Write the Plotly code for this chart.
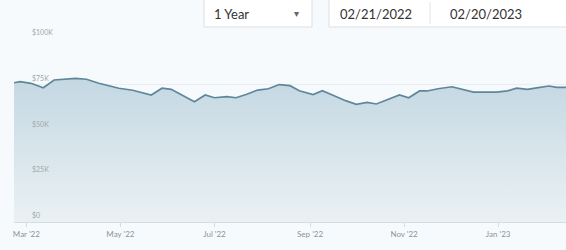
import plotly.graph_objects as go

dates = ["2022-02-21", "2022-02-25", "2022-03-04", "2022-03-12", "2022-03-19", "2022-04-02",
         "2022-04-09", "2022-04-17", "2022-04-30", "2022-05-09", "2022-05-21", "2022-05-28",
         "2022-06-03", "2022-06-18", "2022-06-25", "2022-07-01", "2022-07-09", "2022-07-15",
         "2022-07-22", "2022-07-29", "2022-08-05", "2022-08-12", "2022-08-19", "2022-08-25",
         "2022-09-03", "2022-09-09", "2022-09-17", "2022-09-24", "2022-10-01", "2022-10-08",
         "2022-10-14", "2022-10-21", "2022-10-29", "2022-11-04", "2022-11-11", "2022-11-16",
         "2022-11-23", "2022-12-02", "2022-12-08", "2022-12-16", "2022-12-31", "2023-01-07",
         "2023-01-13", "2023-01-20", "2023-01-27", "2023-02-03", "2023-02-08", "2023-02-14",
         "2023-02-20"]
values = [76.1, 76.7, 75.8, 73.4, 77.6, 78.5, 78.0, 75.8, 73.1, 72.0, 69.4, 73.1,
          72.5, 65.7, 69.4, 67.9, 68.5, 67.9, 69.8, 72.1, 72.8, 75.1, 74.5, 71.7,
          69.6, 71.7, 68.9, 66.3, 64.3, 65.4, 64.5, 66.7, 69.4, 67.9, 71.6, 71.6,
          72.8, 73.9, 72.5, 71.0, 71.0, 71.7, 73.1, 72.5, 73.4, 74.3, 73.6, 73.6,
          73.6]
values = [v * 1000 for v in values]

x_tick_vals = ["2022-03-01", "2022-05-01", "2022-07-01", "2022-09-01", "2022-11-01", "2023-01-01"]
x_tick_text = ["Mar '22", "May '22", "Jul '22", "Sep '22", "Nov '22", "Jan '23"]
y_tick_vals = [0, 25000, 50000, 75000, 100000]
y_tick_text = ["$0", "$25K", "$50K", "$75K", "$100K"]

period_label = "1 Year"
start_label = "02/21/2022"
end_label = "02/20/2023"

W, H = 566, 250
L, R = 14, 566
T, B = 39, 222


def px(x):
    return (x - L) / (R - L)


def py(y):
    return (B - y) / (B - T)


fig = go.Figure()
fig.add_trace(go.Scatter(
    x=dates, y=values, mode="lines",
    line=dict(color="#5f8799", width=1.7),
    fill="tozeroy",
    fillgradient=dict(type="vertical",
                      colorscale=[[0, "#eaf1f4"], [1, "#c4d8e2"]]),
    hoverinfo="skip", showlegend=False,
))

annotations = []
for v, t in zip(y_tick_vals, y_tick_text):
    annotations.append(dict(
        x=px(30), xref="paper", y=v, yref="y", text=t, showarrow=False,
        xanchor="left", yanchor="bottom", yshift=1,
        font=dict(family="Lato, sans-serif", size=7, color="#a0a8ad"),
    ))

shapes = [
    dict(type="rect", xref="paper", yref="paper", x0=px(204), x1=px(312), y0=py(27), y1=py(-6),
         line=dict(color="#dcdfe2", width=1), fillcolor="#ffffff", layer="above"),
    dict(type="rect", xref="paper", yref="paper", x0=px(329), x1=px(580), y0=py(27), y1=py(-6),
         line=dict(color="#dcdfe2", width=1), fillcolor="#ffffff", layer="above"),
    dict(type="line", xref="paper", yref="paper", x0=px(430), x1=px(430), y0=py(24), y1=py(2),
         line=dict(color="#e2e4e6", width=1), layer="above"),
]
ui_font = dict(family="Lato, sans-serif", size=13, color="#333333")
annotations += [
    dict(x=px(212), y=py(14), xref="paper", yref="paper", text=period_label, showarrow=False,
         xanchor="left", yanchor="middle", font=ui_font),
    dict(x=px(297), y=py(13), xref="paper", yref="paper", text="▾", showarrow=False,
         xanchor="center", yanchor="middle", font=dict(family="DejaVu Sans", size=10, color="#666666")),
    dict(x=px(376), y=py(14), xref="paper", yref="paper", text=start_label, showarrow=False,
         xanchor="center", yanchor="middle", font=ui_font),
    dict(x=px(486), y=py(14), xref="paper", yref="paper", text=end_label, showarrow=False,
         xanchor="center", yanchor="middle", font=ui_font),
]

fig.update_layout(
    width=W, height=H,
    margin=dict(l=L, r=W - R, t=T, b=H - B),
    paper_bgcolor="#f7fafc", plot_bgcolor="#f7fafc",
    xaxis=dict(
        type="date", range=["2022-02-21", "2023-02-14"],
        tickvals=x_tick_vals, ticktext=x_tick_text,
        ticks="outside", ticklen=4, tickcolor="#d5dde2",
        showgrid=False, showline=True, linecolor="#d5dde2", linewidth=1,
        tickfont=dict(family="Lato, sans-serif", size=8, color="#8a9399"),
        zeroline=False, fixedrange=True,
    ),
    yaxis=dict(
        range=[0, 100000], tickvals=y_tick_vals, showticklabels=False,
        showgrid=True, gridcolor="#e8eef1", gridwidth=1, zeroline=False,
        fixedrange=True,
    ),
    shapes=shapes, annotations=annotations,
)

fig.write_html(
    "out.html",
    config={"displayModeBar": False},
    post_script="document.body.style.margin='0';document.body.style.padding='0';"
                "document.body.style.overflow='hidden';"
                "document.body.style.background='#f7fafc';",
)
